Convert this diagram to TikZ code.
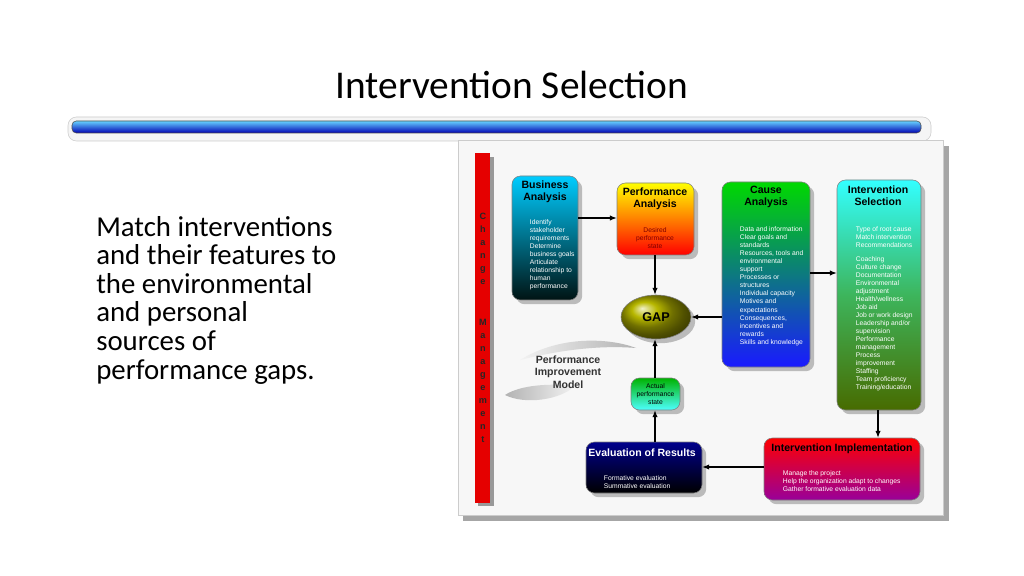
\documentclass[tikz,border=0pt]{standalone}
\usepackage{fontspec}
\setmainfont{Carlito}
\newfontfamily\arialfont{Liberation Sans}
\usetikzlibrary{arrows.meta,shadows}
\tikzset{
  stage/.style={rounded corners=6pt, drop shadow={shadow xshift=3pt, shadow yshift=-3pt, opacity=0.5}},
  head/.style={font=\arialfont\bfseries\fontsize{7.5}{8.5}\selectfont, align=center},
  body/.style={font=\arialfont\fontsize{4.8}{5.7}\selectfont, align=left, anchor=north west},
  flow/.style={-{Latex[length=5pt]}, line width=1pt}
}
\begin{document}
\begin{tikzpicture}[x=0.025cm,y=-0.025cm]
  \useasboundingbox (0,0) rectangle (1024,576);
  \fill[white] (0,0) rectangle (1024,576);

  % title and bar
  \node (title) at (512,85) {\fontsize{28}{30}\selectfont Intervention Selection};
  \draw[gray!40, fill=gray!8, rounded corners=6pt] (68,117) rectangle (931,141);
  \shade[top color=blue!30!cyan!60, bottom color=blue!70!black, rounded corners=3pt, draw=black!70] (72,121) rectangle (921,133);

  % left text
  \node[anchor=north west, align=left, inner sep=0pt, font=\fontsize{20.5}{20.3}\selectfont] (intro) at (96,216)
    {Match interventions\\and their features to\\the environmental\\and personal\\sources of\\performance gaps.};

  % diagram frame
  \fill[black!35] (463,146) rectangle (949,521);
  \fill[gray!6, draw=gray!40] (458,140) rectangle (943,515);

  % change management bar
  \fill[black!40] (478,157) rectangle (494,506);
  \fill[red!90!black] (475,153) rectangle (490,503);
  \node[font=\arialfont\bfseries\fontsize{6.5}{9.3}\selectfont, align=center, text=black!85] (chg) at (483,249) {C\\h\\a\\n\\g\\e};
  \node[font=\arialfont\bfseries\fontsize{6.5}{9.3}\selectfont, align=center, text=black!85] (mgt) at (483,381) {M\\a\\n\\a\\g\\e\\m\\e\\n\\t};

  % stages
  \shade[stage, top color=cyan!80!blue, bottom color=black!85!teal, draw=black!50] (512,176) rectangle (578,300);
  \node[head] (ba) at (545,192) {Business\\Analysis};
  \node[body, text=white] (batx) at (525,215) {Identify\\stakeholder\\requirements\\Determine\\business goals\\Articulate\\relationship to\\human\\performance};

  \shade[stage, top color=yellow, bottom color=red, draw=black!50] (617,183) rectangle (694,255);
  \node[head] (pa) at (655,199) {Performance\\Analysis};
  \node[body, align=center, anchor=center, text=red!50!black] (patx) at (655,238) {Desired\\performance\\state};

  \shade[stage, top color=green!85!black, bottom color=blue!90, draw=black!50] (722,182) rectangle (810,367);
  \node[head] (ca) at (766,197) {Cause\\Analysis};
  \node[body, text=white] (catx) at (735,222) {Data and information\\Clear goals and\\standards\\Resources, tools and\\environmental\\support\\Processes or\\structures\\Individual capacity\\Motives and\\expectations\\Consequences,\\incentives and\\rewards\\Skills and knowledge};

  \shade[stage, top color=cyan!80, bottom color=olive!80!green!70!black, draw=black!50] (837,180) rectangle (921,410);
  \node[head] (is) at (878,196) {Intervention\\Selection};
  \node[body, text=white] (istx) at (851,222) {Type of root cause\\Match intervention\\Recommendations\\[4pt]Coaching\\Culture change\\Documentation\\Environmental\\adjustment\\Health/wellness\\Job aid\\Job or work design\\Leadership and/or\\supervision\\Performance\\management\\Process\\improvement\\Staffing\\Team proficiency\\Training/education};

  \shade[stage, ball color=olive!75!yellow, draw=black!50] (656,317) ellipse [x radius=35, y radius=22];
  \node[font=\arialfont\bfseries\fontsize{9}{10}\selectfont] (gap) at (656,317) {GAP};

  \shade[stage, top color=green!70!black, bottom color=cyan!70, draw=black!50] (631,378) rectangle (680,410);
  \node[body, align=center, anchor=center] (act) at (655.5,394) {Actual\\performance\\state};

  \shade[stage, top color=blue!55!black, bottom color=black, draw=black!50] (586,442) rectangle (702,493);
  \node[head, text=white] (ev) at (642,453) {Evaluation of Results};
  \node[body, text=white] (evtx) at (599,471) {Formative evaluation\\Summative evaluation};

  \shade[stage, top color=red, bottom color=violet!80!magenta, draw=black!50] (764,438) rectangle (920,500);
  \node[head] (ii) at (842,449) {Intervention Implementation};
  \node[body, text=white] (iitx) at (778,466) {Manage the project\\Help the organization adapt to changes\\Gather formative evaluation data};

  % performance improvement model label
  \shade[left color=gray!10, right color=gray!60] (520,360) .. controls (560,335) and (610,338) .. (636,348) .. controls (600,345) and (560,350) .. (520,360);
  \shade[left color=gray!60, right color=gray!10] (505,395) .. controls (520,385) and (550,383) .. (575,386) .. controls (560,400) and (525,405) .. (505,395);
  \node[font=\arialfont\bfseries\fontsize{7.5}{9}\selectfont, align=center, text=black!80] (pim) at (568,372) {Performance\\Improvement\\Model};

  % connectors
  \draw[flow] (578,218) -- (617,218);
  \draw[flow] (655,255) -- (655,295);
  \draw[flow] (722,317) -- (691,317);
  \draw[flow] (810,273) -- (837,273);
  \draw[flow] (878,410) -- (878,438);
  \draw[flow] (764,467) -- (702,467);
  \draw[flow] (655,442) -- (655,410);
  \draw[flow] (655,378) -- (655,339);
\end{tikzpicture}
\end{document}
